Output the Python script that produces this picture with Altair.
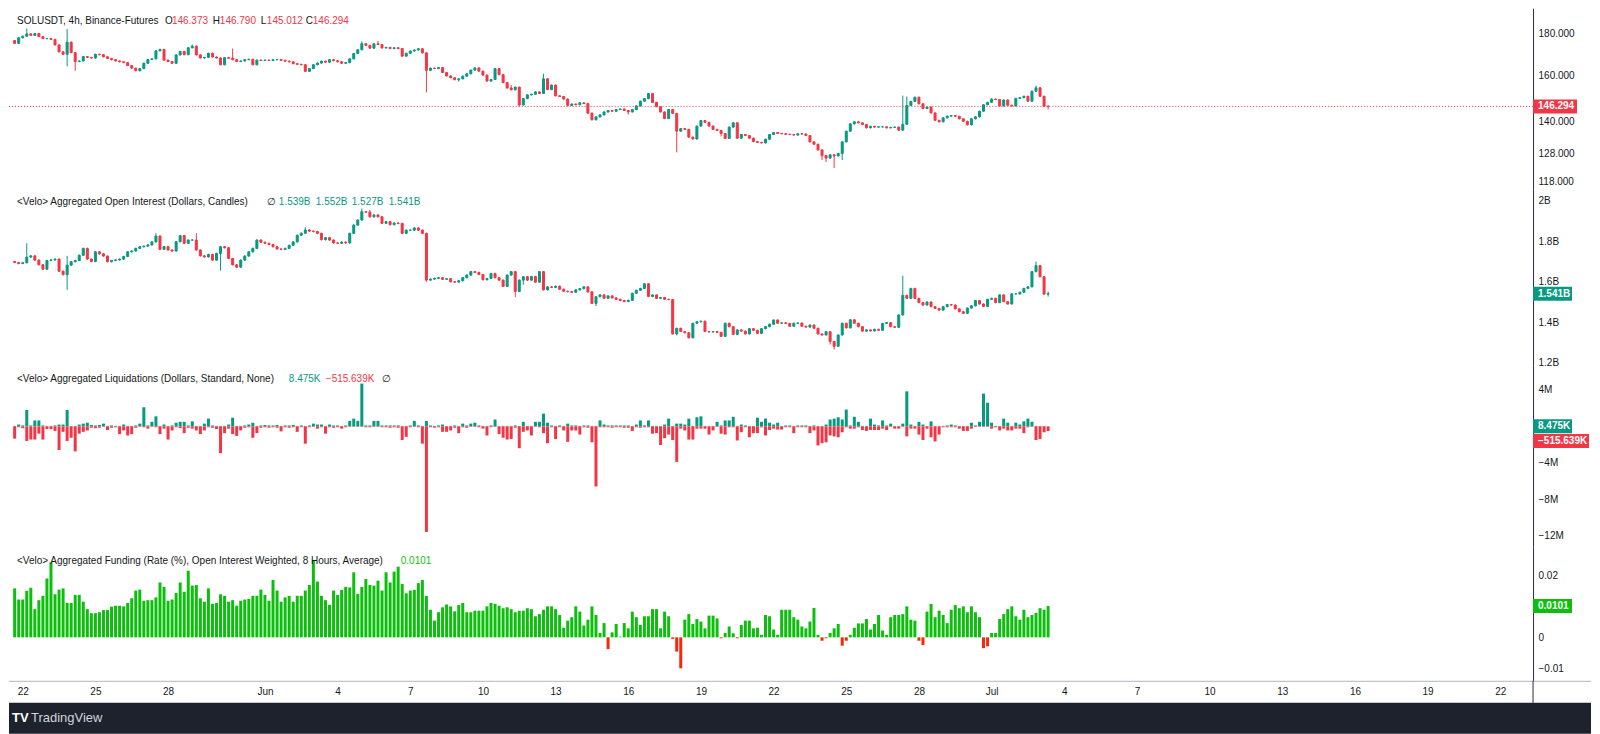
import altair as alt
import pandas as pd
from datetime import datetime, timedelta

FONT = "Liberation Sans"
DARK = "#131722"
GREEN = "#089981"
RED = "#F23645"
FGREEN = "#0DBF0D"
FRED = "#F5290A"
AXIS_LINE = "#2A2E39"
FOOT = "#1E222D"

# ---------------- tick labels ----------------
PRICE_TICKS = [180, 160, 140, 128, 118]
OI_TICKS = [2.0, 1.8, 1.6, 1.4, 1.2]
LIQ_TICKS = [4, -4, -8, -12]
FUND_TICKS = [0.02, 0, -0.01]
X_TICK_DAYS = [(5, 22), (5, 25), (5, 28), (6, 1), (6, 4), (6, 7), (6, 10), (6, 13), (6, 16),
               (6, 19), (6, 22), (6, 25), (6, 28), (7, 1), (7, 4), (7, 7), (7, 10), (7, 13),
               (7, 16), (7, 19), (7, 22)]

# ---------------- SOLUSDT 4h closes (21 May 16:00 -> 3 Jul 08:00) ----------------
price_open_first = 176.6
price_close = [
    175.2, 178.0,
    178.8, 180.0, 179.2, 180.2, 178.6, 177.6,
    177.6, 177.2, 174.4, 171.0, 169.8, 175.8,
    170.6, 166.3, 166.6, 168.7, 168.3, 168.0,
    169.8, 169.6, 168.6, 167.8, 167.2, 166.6,
    166.2, 165.8, 164.4, 163.2, 162.0, 163.0,
    165.5, 167.3, 167.6, 171.5, 172.2, 167.0,
    166.3, 165.5, 169.5, 171.2, 169.6, 173.0,
    173.8, 169.5, 168.0, 168.3, 170.3, 168.5,
    168.0, 164.8, 168.2, 167.9, 167.2, 166.3,
    166.6, 167.2, 167.4, 164.8, 167.0, 166.8,
    167.0, 166.8, 167.2, 167.3, 166.9, 166.5,
    166.2, 165.3, 165.0, 164.8, 161.7, 163.0,
    164.8, 165.6, 166.5, 166.0, 167.2, 166.7,
    166.2, 165.5, 165.8, 167.6, 170.2, 172.0,
    175.0, 174.2, 172.8, 175.0, 174.6, 172.9,
    173.2, 172.6, 173.0, 172.6, 168.9, 170.3,
    171.4, 171.9, 172.5, 170.5, 162.2, 163.2,
    163.0, 163.5, 161.2, 159.6, 158.8, 157.9,
    158.3, 159.5, 160.6, 162.3, 163.3, 161.8,
    160.0, 157.3, 158.0, 163.0, 160.2, 156.6,
    154.2, 153.4, 154.6, 146.9, 149.6, 151.2,
    151.5, 152.5, 151.8, 158.3, 153.5, 155.5,
    150.8, 150.5, 149.4, 146.7, 147.3, 147.0,
    147.8, 147.5, 143.5, 140.8, 142.0, 142.8,
    144.0, 144.6, 144.3, 145.0, 145.2, 144.6,
    144.0, 145.0, 146.5, 148.5, 149.6, 151.8,
    148.0, 146.2, 144.0, 141.3, 145.0, 143.4,
    136.3, 137.3, 137.0, 134.0, 133.3, 138.3,
    140.5, 139.8, 138.3, 137.0, 136.6, 135.4,
    133.5, 137.9, 139.6, 133.6, 135.0, 134.6,
    133.6, 132.3, 132.0, 131.8, 133.2, 135.0,
    135.8, 135.4, 135.3, 135.1, 135.0, 134.8,
    135.3, 135.2, 134.6, 132.2, 131.3, 129.2,
    127.1, 126.2, 127.4, 127.0, 127.9, 132.2,
    136.3, 139.2, 140.0, 139.6, 138.9, 137.6,
    138.2, 137.9, 138.0, 138.0, 137.6, 137.8,
    137.9, 136.7, 139.0, 146.7, 148.4, 150.2,
    147.4, 145.4, 146.0, 143.6, 140.6, 140.0,
    141.6, 142.3, 142.5, 142.2, 141.2, 140.2,
    138.8, 141.2, 142.0, 144.3, 147.0, 148.0,
    149.4, 149.2, 146.5, 149.0, 146.8, 146.5,
    149.7, 150.0, 150.6, 148.5, 152.8, 154.3,
    150.6, 146.373, 146.294,
]
price_high_marks = {3: 182.8, 13: 182.5, 44: 174.6, 54: 172.6, 86: 176.2, 90: 176.4,
                    123: 155.6, 131: 160.6, 220: 150.9, 221: 150.5, 253: 155.3, 256: 146.790}
price_low_marks = {13: 164.0, 15: 162.0, 102: 152.3, 110: 157.0, 125: 146.2, 152: 143.0,
                   164: 128.3, 175: 134.3, 200: 125.5, 201: 124.8, 203: 122.7, 205: 125.5,
                   256: 145.012}

# ---------------- Aggregated open interest closes (B$) ----------------
oi_open_first = 1.70
oi_close = [
    1.695, 1.690,
    1.694, 1.722, 1.728, 1.707, 1.684, 1.662,
    1.705, 1.708, 1.712, 1.652, 1.635, 1.682,
    1.699, 1.705, 1.731, 1.765, 1.712, 1.700,
    1.748, 1.738, 1.727, 1.699, 1.705, 1.708,
    1.712, 1.725, 1.748, 1.752, 1.765, 1.773,
    1.776, 1.782, 1.797, 1.826, 1.760, 1.774,
    1.757, 1.752, 1.798, 1.828, 1.790, 1.806,
    1.806, 1.757, 1.728, 1.723, 1.735, 1.707,
    1.740, 1.773, 1.768, 1.715, 1.684, 1.672,
    1.707, 1.727, 1.748, 1.765, 1.806, 1.795,
    1.790, 1.784, 1.773, 1.762, 1.760, 1.765,
    1.780, 1.797, 1.830, 1.840, 1.856, 1.850,
    1.848, 1.839, 1.808, 1.818, 1.806, 1.792,
    1.790, 1.796, 1.792, 1.839, 1.880, 1.905,
    1.946, 1.944, 1.921, 1.930, 1.921, 1.889,
    1.897, 1.882, 1.890, 1.888, 1.839, 1.855,
    1.855, 1.866, 1.855, 1.839, 1.608, 1.613,
    1.617, 1.620, 1.612, 1.615, 1.600, 1.598,
    1.605, 1.620, 1.633, 1.650, 1.646, 1.636,
    1.610, 1.616, 1.641, 1.620, 1.608, 1.577,
    1.633, 1.650, 1.552, 1.608, 1.625, 1.608,
    1.626, 1.598, 1.650, 1.560, 1.575, 1.572,
    1.578, 1.563, 1.553, 1.551, 1.548, 1.560,
    1.566, 1.575, 1.550, 1.493, 1.526, 1.535,
    1.518, 1.530, 1.520, 1.513, 1.507, 1.502,
    1.508, 1.543, 1.558, 1.567, 1.590, 1.527,
    1.535, 1.518, 1.522, 1.513, 1.512, 1.342,
    1.370, 1.354, 1.348, 1.323, 1.395, 1.402,
    1.405, 1.354, 1.352, 1.354, 1.350, 1.330,
    1.395, 1.378, 1.340, 1.362, 1.356, 1.342,
    1.368, 1.360, 1.345, 1.368, 1.378, 1.390,
    1.411, 1.395, 1.397, 1.394, 1.380, 1.395,
    1.396, 1.380, 1.376, 1.386, 1.370, 1.342,
    1.337, 1.353, 1.305, 1.281, 1.337, 1.395,
    1.372, 1.412, 1.395, 1.378, 1.356, 1.362,
    1.357, 1.365, 1.360, 1.394, 1.398, 1.378,
    1.375, 1.436, 1.533, 1.518, 1.567, 1.518,
    1.497, 1.485, 1.500, 1.477, 1.468, 1.460,
    1.477, 1.487, 1.485, 1.466, 1.452, 1.444,
    1.470, 1.481, 1.507, 1.490, 1.478, 1.513,
    1.518, 1.497, 1.535, 1.502, 1.490, 1.540,
    1.540, 1.548, 1.567, 1.575, 1.650, 1.680,
    1.625, 1.539, 1.541,
]
oi_high_marks = {3: 1.79, 13: 1.728, 35: 1.84, 45: 1.84, 72: 1.87, 86: 1.962, 88: 1.955,
                 220: 1.63, 253: 1.70, 256: 1.552}
oi_low_marks = {13: 1.56, 51: 1.655, 102: 1.60, 124: 1.525, 126: 1.585, 144: 1.48,
                164: 1.335, 202: 1.29, 203: 1.265, 256: 1.527}

# ---------------- Aggregated liquidations (M$) ----------------
liq_short = [
    0.05, 0.2, 0.1, 1.8, 0.1, 0.65, 0.65, 0.1, 0.05, 0.05,
    0.1, 0.2, 0.2, 1.8, 0.05, 0.05, 0.2, 0.3, 0.4, 0.15,
    0.1, 0.15, 0.3, 0.05, 0.1, 0.05, 0.05, 0.2, 0.05, 0.05,
    0.1, 0.3, 2.1, 0.1, 0.5, 1.1, 0.05, 0.2, 0.05, 0.1,
    0.4, 0.5, 0.5, 0.1, 0.55, 0.05, 0.05, 0.3, 0.85, 0.1,
    0.05, 0.05, 0.05, 0.2, 0.95, 0.05, 0.05, 0.1, 0.2, 0.4,
    0.05, 0.1, 0.15, 0.1, 0.1, 0.15, 0.05, 0.1, 0.1, 0.15,
    0.05, 0.1, 0.05, 0.1, 0.3, 0.2, 0.2, 0.05, 0.2, 0.1,
    0.1, 0.05, 0.1, 0.6, 0.85, 0.6, 4.7, 0.1, 0.1, 0.6,
    0.6, 0.1, 0.1, 0.1, 0.1, 0.1, 0.05, 0.05, 0.1, 0.6,
    0.1, 0.05, 0.6, 0.1, 0.05, 0.1, 0.2, 0.05, 0.05, 0.1,
    0.05, 0.3, 0.1, 0.3, 0.4, 0.1, 0.05, 0.05, 0.1, 0.75,
    0.05, 0.05, 0.05, 0.05, 0.1, 0.05, 0.5, 0.05, 0.05, 0.5,
    0.5, 1.4, 0.4, 0.1, 0.05, 0.1, 0.05, 0.3, 0.1, 0.1,
    0.05, 0.1, 0.1, 0.05, 0.05, 0.65, 0.2, 0.1, 0.1, 0.1,
    0.1, 0.1, 0.1, 0.05, 0.2, 0.65, 0.1, 0.65, 0.05, 0.05,
    0.05, 0.2, 0.85, 0.05, 0.3, 0.3, 0.2, 0.85, 0.05, 1.0,
    1.1, 0.05, 0.05, 0.05, 0.5, 0.1, 0.65, 0.65, 1.05, 0.05,
    0.2, 0.1, 0.05, 0.05, 0.95, 0.5, 0.85, 0.4, 0.2, 0.4,
    0.05, 0.1, 0.1, 0.05, 0.1, 0.1, 0.1, 0.05, 0.1, 0.05,
    0.05, 0.2, 0.75, 0.85, 1.0, 0.75, 1.85, 0.1, 1.05, 0.5,
    0.05, 0.05, 0.85, 0.2, 0.1, 0.65, 0.1, 0.3, 0.05, 0.05,
    0.3, 3.85, 0.2, 0.05, 0.5, 0.2, 0.05, 0.55, 0.05, 0.05,
    0.05, 0.1, 0.2, 0.1, 0.05, 0.05, 0.05, 0.4, 0.1, 0.5,
    3.6, 2.6, 0.4, 0.05, 0.05, 0.85, 0.4, 0.05, 0.4, 0.2,
    0.55, 0.85, 0.5, 0.05, 0.05, 0.05, 0.008475,
]
liq_long = [
    1.35, 0.1, 0.2, 1.6, 1.45, 1.45, 0.8, 1.45, 0.3, 0.3,
    0.5, 2.6, 0.6, 1.6, 1.25, 2.75, 0.8, 0.6, 0.45, 0.15,
    0.2, 0.15, 0.05, 0.4, 0.15, 0.1, 0.85, 0.45, 1.0, 0.85,
    0.15, 0.05, 0.1, 0.25, 0.05, 0.1, 0.85, 0.25, 1.45, 0.45,
    0.1, 0.2, 0.75, 0.15, 0.25, 0.45, 0.85, 0.45, 0.1, 0.15,
    0.3, 2.95, 0.75, 0.25, 0.85, 1.05, 0.45, 0.15, 0.1, 1.25,
    0.75, 0.15, 0.1, 0.15, 0.1, 0.15, 0.55, 0.1, 0.15, 0.1,
    0.6, 0.1, 1.9, 0.1, 0.05, 0.25, 0.1, 0.8, 0.1, 0.15,
    0.1, 0.25, 0.1, 0.05, 0.05, 0.05, 0.05, 0.1, 0.1, 0.05,
    0.05, 0.1, 0.1, 0.15, 0.1, 0.15, 1.5, 1.15, 0.1, 0.05,
    0.1, 1.9, 11.6, 0.1, 0.15, 0.1, 0.6, 0.6, 0.45, 0.15,
    0.75, 0.1, 0.15, 0.05, 0.05, 0.1, 0.25, 1.0, 0.1, 0.05,
    0.85, 1.25, 1.45, 1.4, 0.15, 2.4, 0.6, 0.45, 1.0, 0.05,
    0.1, 0.75, 1.85, 0.1, 1.4, 0.1, 0.45, 1.7, 0.45, 0.45,
    0.9, 0.1, 0.15, 1.75, 6.6, 0.1, 0.1, 0.1, 0.15, 0.1,
    0.1, 0.15, 0.15, 0.5, 0.1, 0.15, 0.1, 0.1, 0.8, 0.75,
    2.05, 1.3, 0.9, 1.5, 3.9, 0.25, 0.45, 1.45, 1.45, 0.25,
    0.25, 0.25, 0.9, 0.45, 0.05, 0.8, 0.9, 0.1, 0.1, 1.55,
    0.65, 0.1, 1.2, 0.75, 0.75, 0.1, 1.0, 0.4, 0.25, 0.35,
    0.35, 0.1, 0.1, 0.75, 0.1, 0.1, 0.1, 0.75, 0.45, 2.1,
    1.85, 1.75, 1.0, 1.1, 1.2, 0.65, 0.1, 0.25, 0.25, 0.1,
    0.4, 0.5, 0.4, 0.4, 0.4, 0.25, 0.4, 0.05, 0.25, 0.25,
    0.05, 1.1, 0.25, 0.25, 0.9, 1.5, 0.25, 1.2, 1.65, 0.9,
    0.1, 0.1, 0.1, 0.1, 0.25, 0.5, 0.5, 0.25, 0.05, 0.05,
    0.05, 0.05, 0.25, 0.1, 0.45, 0.25, 0.45, 0.45, 0.25, 0.25,
    0.75, 0.1, 0.05, 1.5, 1.4, 0.65, 0.515639,
]

# ---------------- Aggregated funding (%) ----------------
funding = [
    0.0158, 0.0122, 0.0122, 0.0150, 0.0160, 0.0091, 0.0120, 0.0134, 0.0190, 0.0242,
    0.0139, 0.0154, 0.0158, 0.0111, 0.0111, 0.0137, 0.0137, 0.0115, 0.0091, 0.0078,
    0.0078, 0.0081, 0.0088, 0.0088, 0.0099, 0.0102, 0.0102, 0.0100, 0.0111, 0.0126,
    0.0151, 0.0154, 0.0118, 0.0120, 0.0120, 0.0129, 0.0177, 0.0163, 0.0118, 0.0122,
    0.0143, 0.0177, 0.0147, 0.0215, 0.0167, 0.0169, 0.0126, 0.0115, 0.0158, 0.0108,
    0.0111, 0.0139, 0.0134, 0.0115, 0.0120, 0.0102, 0.0118, 0.0122, 0.0124, 0.0134,
    0.0134, 0.0154, 0.0137, 0.0118, 0.0185, 0.0151, 0.0115, 0.0129, 0.0134, 0.0115,
    0.0134, 0.0134, 0.0151, 0.0169, 0.0247, 0.0180, 0.0134, 0.0120, 0.0105, 0.0151,
    0.0137, 0.0153, 0.0163, 0.0161, 0.0210, 0.0140, 0.0163, 0.0188, 0.0169, 0.0167,
    0.0183, 0.0151, 0.0210, 0.0177, 0.0212, 0.0228, 0.0172, 0.0142, 0.0151, 0.0153,
    0.0175, 0.0185, 0.0134, 0.0089, 0.0054, 0.0081, 0.0097, 0.0106, 0.0100, 0.0084,
    0.0104, 0.0111, 0.0081, 0.0081, 0.0086, 0.0086, 0.0086, 0.0100, 0.0111, 0.0108,
    0.0102, 0.0094, 0.0097, 0.0091, 0.0081, 0.0086, 0.0086, 0.0094, 0.0091, 0.0068,
    0.0075, 0.0089, 0.0100, 0.0100, 0.0091, 0.0072, 0.0031, 0.0054, 0.0065, 0.0100,
    0.0083, 0.0038, 0.0057, 0.0100, 0.0072, 0.0014, 0.0046, -0.0038, 0.0016, 0.0043,
    0.0002, 0.0046, 0.0029, 0.0083, 0.0065, 0.0040, 0.0068, 0.0068, 0.0091, 0.0091,
    0.0029, 0.0083, 0.0068, -0.0005, -0.0046, -0.0100, 0.0057, 0.0075, 0.0043, 0.0059,
    0.0051, 0.0029, 0.0070, 0.0070, 0.0061, -0.0003, 0.0014, 0.0035, 0.0013, -0.0003,
    0.0040, 0.0054, 0.0054, 0.0029, 0.0031, 0.0008, 0.0072, 0.0068, 0.0025, 0.0008,
    0.0089, 0.0089, 0.0089, 0.0065, 0.0057, 0.0035, 0.0029, 0.0051, 0.0095, 0.0008,
    -0.0011, -0.0003, 0.0014, 0.0029, 0.0043, -0.0027, -0.0011, 0.0008, 0.0031, 0.0045,
    0.0045, 0.0059, 0.0025, 0.0043, 0.0072, 0.0022, 0.0008, 0.0065, 0.0072, 0.0072,
    0.0075, 0.0100, 0.0057, 0.0054, -0.0011, -0.0025, 0.0083, 0.0108, 0.0065, 0.0086,
    0.0072, 0.0046, 0.0089, 0.0104, 0.0094, 0.0100, 0.0081, 0.0100, 0.0081, 0.0065,
    -0.0035, -0.0029, 0.0014, 0.0014, 0.0059, 0.0075, 0.0091, 0.0100, 0.0068, 0.0057,
    0.0089, 0.0065, 0.0072, 0.0079, 0.0094, 0.0089, 0.0101,
]

N = len(price_close)
assert len(oi_close) == N and len(liq_short) == N and len(liq_long) == N and len(funding) == N, \
    (N, len(oi_close), len(liq_short), len(liq_long), len(funding))

START = datetime(2024, 5, 21, 16, 0)
times = [(START + timedelta(hours=4 * i)).strftime("%Y-%m-%dT%H:%M:%S") for i in range(N)]


def candle_table(closes, first_open, hi_marks, lo_marks, pad):
    rows, prev = [], first_open
    for i, c in enumerate(closes):
        o = prev
        h = max(o, c) * (1 + pad)
        lo = min(o, c) * (1 - pad)
        if i in hi_marks:
            h = max(h, hi_marks[i])
        if i in lo_marks:
            lo = min(lo, lo_marks[i])
        rows.append({"t": times[i], "open": o, "close": c, "high": h, "low": lo})
        prev = c
    return pd.DataFrame(rows)


price_df = candle_table(price_close, price_open_first, price_high_marks, price_low_marks, 0.0015)
oi_df = candle_table(oi_close, oi_open_first, oi_high_marks, oi_low_marks, 0.002)
liq_df = pd.DataFrame({"t": times, "pos": liq_short, "neg": [-v for v in liq_long]})
fund_df = pd.DataFrame({"t": times, "f": funding})

# ---------------- layout ----------------
W = 1525
H1, H2, H3, H4 = 181, 176, 182, 134
FULLW = 1583
ONE = alt.Data(values=[{"k": 0}])

X_DOMAIN = [alt.DateTime(year=2024, month=5, date=21, hours=15, minutes=21),
            alt.DateTime(year=2024, month=7, date=23, hours=3, minutes=32)]
xs = alt.Scale(domain=X_DOMAIN)


def yaxis(values, **kw):
    return alt.Axis(orient="right", values=values, title=None, grid=False, ticks=False,
                    domain=True, domainColor=AXIS_LINE, domainWidth=1, labelFont=FONT,
                    labelFontSize=10, labelColor=DARK, labelPadding=5, labelOverlap=False,
                    labelFlush=False, **kw)


def txt(s, x, y, color=DARK, weight="normal", size=10):
    return alt.Chart(ONE).mark_text(text=s, align="left", baseline="middle", font=FONT,
                                    fontSize=size, color=color, fontWeight=weight).encode(
        x=alt.value(x), y=alt.value(y))


def box(val, text, color, w, dy=0):
    b = alt.Chart(ONE).mark_tick(orient="horizontal", size=w, thickness=14, color=color,
                                 opacity=1, yOffset=dy).encode(y=alt.datum(val), x=alt.value(W + w / 2))
    t = alt.Chart(ONE).mark_text(text=text, align="left", baseline="middle", font=FONT,
                                 fontSize=10, fontWeight="bold", color="white", dy=dy).encode(
        y=alt.datum(val), x=alt.value(W + 5))
    return [b, t]


candle_col = alt.condition("datum.close >= datum.open", alt.value(GREEN), alt.value(RED))

# ---- panel 1 : price ----
pb = alt.Chart(price_df).encode(x=alt.X("t:T", scale=xs, axis=None))
p_wick = pb.mark_rule(strokeWidth=1).encode(
    y=alt.Y("low:Q", scale=alt.Scale(type="log", domain=[115.5, 193.7], nice=False, zero=False),
            axis=yaxis(PRICE_TICKS, format=".3f")),
    y2="high:Q", color=candle_col)
p_body = pb.mark_bar(size=2, strokeWidth=1).encode(y="open:Q", y2="close:Q", color=candle_col,
                                                   stroke=candle_col)
last_p = price_close[-1]
p_line = alt.Chart(ONE).mark_rule(color=RED, strokeDash=[1, 2], strokeWidth=1).encode(y=alt.datum(last_p))
panel1 = alt.layer(
    p_wick, p_body, p_line, *box(last_p, f"{last_p:.3f}", RED, 44),
    txt("SOLUSDT, 4h, Binance-Futures", 8, 13),
    txt("O", 156, 13), txt("146.373", 163, 13, RED),
    txt("H", 204, 13), txt("146.790", 211, 13, RED),
    txt("L", 252, 13), txt("145.012", 258, 13, RED),
    txt("C", 297, 13), txt("146.294", 304, 13, RED),
).properties(width=W, height=H1)

# ---- panel 2 : open interest ----
ob = alt.Chart(oi_df).encode(x=alt.X("t:T", scale=xs, axis=None))
o_wick = ob.mark_rule(strokeWidth=1).encode(
    y=alt.Y("low:Q", scale=alt.Scale(domain=[1.1886, 2.0578], nice=False, zero=False),
            axis=yaxis(OI_TICKS, labelExpr="format(datum.value, '~g') + 'B'")),
    y2="high:Q", color=candle_col)
o_body = ob.mark_bar(size=2, strokeWidth=1).encode(y="open:Q", y2="close:Q", color=candle_col,
                                                   stroke=candle_col)
last_oi = oi_close[-1]
panel2 = alt.layer(
    o_wick, o_body, *box(last_oi, f"{last_oi:.3f}B", GREEN, 39),
    txt("<Velo> Aggregated Open Interest (Dollars, Candles)", 8, 13),
    txt("\u2205", 258, 13),
    txt("1.539B", 270, 13, GREEN), txt("1.552B", 307, 13, GREEN),
    txt("1.527B", 343, 13, GREEN), txt("1.541B", 380, 13, GREEN),
).properties(width=W, height=H2)

# ---- panel 3 : liquidations ----
lb = alt.Chart(liq_df).encode(x=alt.X("t:T", scale=xs, axis=None))
l_pos = lb.mark_bar(size=3, color=GREEN).encode(
    y=alt.Y("pos:Q", scale=alt.Scale(domain=[-13.24, 6.74], nice=False, zero=False),
            axis=yaxis(LIQ_TICKS, labelExpr="format(datum.value, 'd') + 'M'")))
l_neg = lb.mark_bar(size=3, color=RED).encode(y="neg:Q")
panel3 = alt.layer(
    l_pos, l_neg,
    *box(liq_short[-1], "8.475K", GREEN, 39),
    *box(-liq_long[-1], "\u2212515.639K", RED, 56, dy=10),
    txt("<Velo> Aggregated Liquidations (Dollars, Standard, None)", 8, 14),
    txt("8.475K", 280, 14, GREEN), txt("\u2212515.639K", 317, 14, RED),
    txt("\u2205", 373, 14),
).properties(width=W, height=H3)

# ---- panel 4 : funding ----
fb = alt.Chart(fund_df).encode(
    x=alt.X("t:T", scale=xs, axis=alt.Axis(
        values=[alt.DateTime(year=2024, month=m, date=d) for m, d in X_TICK_DAYS],
        labelExpr="date(datum.value) == 1 ? timeFormat(datum.value, '%b') : '' + date(datum.value)",
        domain=False, ticks=False, grid=False, labelFont=FONT, labelFontSize=10,
        labelColor=DARK, labelPadding=6, title=None, labelOverlap=False, labelFlush=False)))
f_bars = fb.mark_bar(size=3).encode(
    y=alt.Y("f:Q", scale=alt.Scale(domain=[-0.01403, 0.02919], nice=False, zero=False),
            axis=yaxis(FUND_TICKS, format="~g")),
    color=alt.condition("datum.f >= 0", alt.value(FGREEN), alt.value(FRED)))
last_f = funding[-1]
panel4 = alt.layer(
    f_bars, *box(last_f, f"{last_f:.4f}", FGREEN, 39),
    txt("<Velo> Aggregated Funding (Rate (%), Open Interest Weighted, 8 Hours, Average)", 8, 14),
    txt(f"{last_f:.4f}", 392, 14, FGREEN),
).properties(width=W, height=H4)

# ---- x-axis strip and footer ----
spacer = alt.layer(
    alt.Chart(ONE).mark_rule(color="#B2B5BE", strokeWidth=1).encode(
        x=alt.value(0), x2=alt.value(FULLW), y=alt.value(0.5)),
    alt.Chart(ONE).mark_rule(color=AXIS_LINE, strokeWidth=1).encode(
        x=alt.value(W), y=alt.value(0), y2=alt.value(22)),
).properties(width=FULLW, height=22)

footer = alt.layer(
    txt("TV", 3, 15, color="white", weight="bold", size=13),
    txt("TradingView", 22, 15, color="#D1D4DC", size=13),
).properties(width=FULLW, height=31, view=alt.ViewBackground(fill=FOOT, stroke=None))

chart = alt.vconcat(panel1, panel2, panel3, panel4, spacer, footer, spacing=0, bounds="flush") \
    .resolve_scale(x="independent", y="independent") \
    .configure_view(stroke=None) \
    .properties(background="white", padding=0)

chart.save("out.html", embed_options={"renderer": "svg", "actions": False})
